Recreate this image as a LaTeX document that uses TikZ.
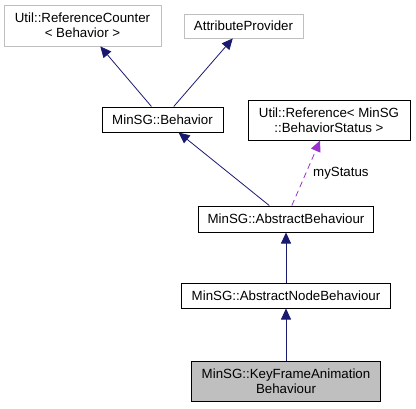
\documentclass[tikz,border=0pt]{standalone}
\usepackage{fontspec}
\setmainfont{Liberation Sans}
\usepackage{tikz}
\usepackage{xcolor}
\usetikzlibrary{arrows.meta, positioning}
\definecolor{edgeblue}{HTML}{191970}
\definecolor{edgepurple}{HTML}{9A32CD}
\definecolor{nodegray}{HTML}{BFBFBF}
\definecolor{curfill}{HTML}{BFBFBF}

\begin{document}
\begin{tikzpicture}[x=1pt, y=-1pt,
            font=\fontsize{13.3}{15}\selectfont,
            ext/.style={rectangle, draw=nodegray, fill=white, line width=0.8pt, align=center, inner sep=0pt},
            cls/.style={rectangle, draw=black, fill=white, line width=1pt, align=center, inner sep=0pt},
            cur/.style={rectangle, draw=black, fill=curfill, line width=1pt, align=center, inner sep=0pt},
            inh/.style={draw=edgeblue, line width=0.8pt, -{Triangle[length=11pt, width=10pt]}},
            usr/.style={draw=edgepurple, line width=0.8pt, dash pattern=on 6pt off 4pt, -{Triangle[length=11pt, width=10pt]}}]
            \useasboundingbox (0,0) rectangle (416,408);
            \node[ext, minimum width=157pt, minimum height=41pt] (refcount) at (82.5,25.5) {Util::ReferenceCounter\\{< Behavior >}};
            \node[ext, minimum width=119pt, minimum height=24pt] (attrprov) at (243.5,26) {AttributeProvider};
            \node[cls, minimum width=121pt, minimum height=25pt] (behavior) at (162.5,119.5) {MinSG::Behavior};
            \node[cls, minimum width=162pt, minimum height=40pt] (statusref) at (329,120) {Util::Reference< MinSG\\::BehaviorStatus >};
            \node[cls, minimum width=175pt, minimum height=26pt] (absbeh) at (286,219) {MinSG::AbstractBehaviour};
            \node[cls, minimum width=209pt, minimum height=25pt] (absnodebeh) at (286,295.5) {MinSG::AbstractNodeBehaviour};
            \node[cur, minimum width=189pt, minimum height=40pt] (keyframe) at (286,381) {MinSG::KeyFrameAnimation\\Behaviour};
            \draw[inh] (behavior) -- (refcount);
            \draw[inh] (behavior) -- (attrprov);
            \draw[inh] (absbeh) -- (behavior);
            \draw[usr] (absbeh) -- (statusref);
            \draw[inh] (absnodebeh) -- (absbeh);
            \draw[inh] (keyframe) -- (absnodebeh);
            \node[anchor=west, inner sep=0pt] (statuslbl) at (313,173) {myStatus};
        \end{tikzpicture}
\end{document}
